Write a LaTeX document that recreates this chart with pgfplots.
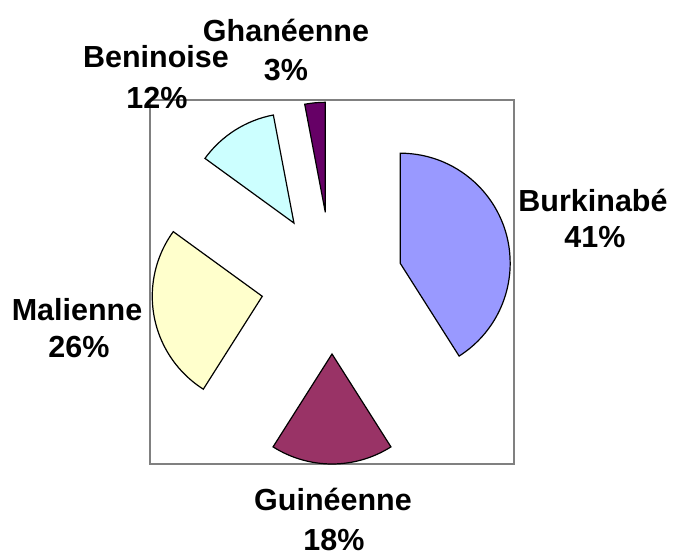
\documentclass[border=0pt]{standalone}
\usepackage{pgfplots}
\usepackage{pgfplotstable}
\pgfplotsset{compat=1.18}
\usepackage{fontspec}
\setmainfont{Liberation Sans}

% shares in percent, Excel order: from 12 o'clock, clockwise
\pgfplotstableread{
pct
41
18
26
12
3
}\piedata

\definecolor{pie0}{HTML}{9999FF}
\definecolor{pie1}{HTML}{993366}
\definecolor{pie2}{HTML}{FFFFCC}
\definecolor{pie3}{HTML}{CCFFFF}
\definecolor{pie4}{HTML}{660066}

\newcommand\lab{\bfseries\fontsize{30.6}{35}\selectfont}

\begin{document}
\begin{tikzpicture}
% start/end angles and exploded apex of each slice
\xdef\acc{90}
\foreach \i in {0,...,4}{
  \pgfplotstablegetelem{\i}{pct}\of\piedata
  \pgfmathsetmacro\e{\acc-3.6*\pgfplotsretval}
  \pgfmathsetmacro\m{(\acc+\e)/2}
  \pgfmathsetmacro\px{332+71*cos(\m)}
  \pgfmathsetmacro\py{273+71*sin(\m)}
  \expandafter\xdef\csname pieS\i\endcsname{\acc}
  \expandafter\xdef\csname pieE\i\endcsname{\e}
  \expandafter\xdef\csname pieX\i\endcsname{\px}
  \expandafter\xdef\csname pieY\i\endcsname{\py}
  \xdef\acc{\e}
}
\begin{axis}[
    x=1bp, y=1bp,
    xmin=150, xmax=514,
    ymin=92, ymax=456,
    axis lines=box,
    axis line style={draw=gray, line width=1.2bp},
    ticks=none,
    clip=false,
]
\path (axis cs:0,0) rectangle (axis cs:676,556);
\pgfplotsinvokeforeach{0,...,4}{
  \filldraw[fill=pie#1, draw=black, line width=1.2bp]
    (axis cs:\csname pieX#1\endcsname,\csname pieY#1\endcsname)
    -- ++(\csname pieS#1\endcsname:110bp)
    arc[start angle=\csname pieS#1\endcsname, end angle=\csname pieE#1\endcsname, radius=110bp]
    -- cycle;
}
\node[anchor=base, inner sep=0, font=\lab] at (axis cs:593,344) {Burkinabé};
\node[anchor=base, inner sep=0, font=\lab] at (axis cs:595,308) {41\%};
\node[anchor=base, inner sep=0, font=\lab] at (axis cs:333,45) {Guinéenne};
\node[anchor=base, inner sep=0, font=\lab] at (axis cs:334,6) {18\%};
\node[anchor=base, inner sep=0, font=\lab] at (axis cs:77,235) {Malienne};
\node[anchor=base, inner sep=0, font=\lab] at (axis cs:79,198) {26\%};
\node[anchor=base, inner sep=0, font=\lab] at (axis cs:156,488) {Beninoise};
\node[anchor=base, inner sep=0, font=\lab] at (axis cs:157,447) {12\%};
\node[anchor=base, inner sep=0, font=\lab] at (axis cs:286,514) {Ghanéenne};
\node[anchor=base, inner sep=0, font=\lab] at (axis cs:286,475) {3\%};
\end{axis}
\end{tikzpicture}
\end{document}
